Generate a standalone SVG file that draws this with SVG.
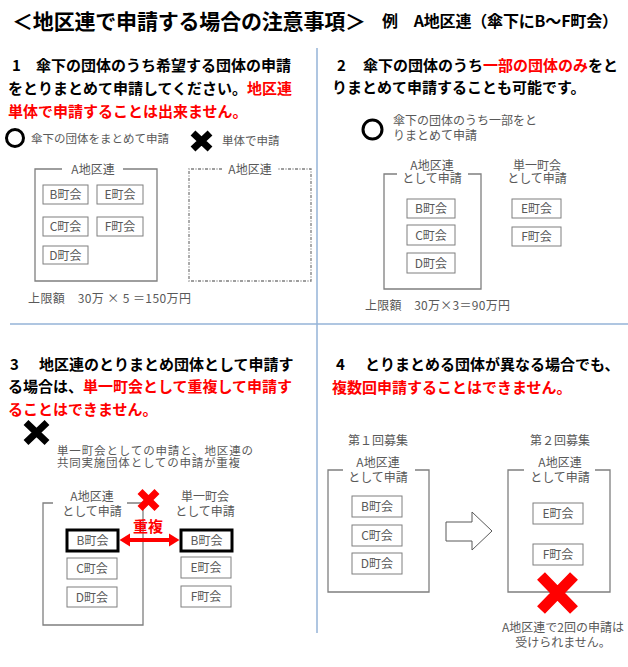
<svg xmlns="http://www.w3.org/2000/svg" width="628" height="667" viewBox="0 0 628 667">
<style>
text{font-family:"Noto Sans CJK JP","Noto Sans CJK SC",sans-serif}
.t{font-size:21px;font-weight:700;fill:#000}
.h{font-size:15px;font-weight:700;fill:#000}
.r{fill:#ff0000}
.s{font-size:12px;fill:#595959}
.m{text-anchor:middle}
.box{fill:none;stroke:#7f7f7f;stroke-width:1.3}
.ib{fill:#fff;stroke:#7f7f7f;stroke-width:1}
.bb{fill:#fff;stroke:#000;stroke-width:3}
.div{stroke:#95b3d7;stroke-width:1.5;fill:none}
.xk{stroke:#000;stroke-width:7;fill:none}
.xr{stroke:#ff0000;fill:none}
.ok{fill:none;stroke:#000;stroke-width:3}
</style>
<rect width="628" height="667" fill="#fff"/>
<g id="title">
<text class="t" x="12" y="29" textLength="354">＜地区連で申請する場合の注意事項＞</text>
<text class="h" x="382" y="27" style="font-size:16px" textLength="236">例　A地区連（傘下にB～F町会）</text>
</g>
<g id="dividers">
<line class="div" x1="317" y1="48" x2="317" y2="633"/>
<line class="div" x1="10" y1="324" x2="628" y2="324"/>
</g>
<g id="sec1">
<text class="h" x="12" y="71">1</text>
<text class="h" x="36" y="71">傘下の団体のうち希望する団体の申請</text>
<text class="h" x="8" y="94">をとりまとめて申請してください。<tspan class="r">地区連</tspan></text>
<text class="h r" x="8" y="117">単体で申請することは出来ません。</text>
<circle class="ok" cx="15" cy="138" r="8.5"/>
<text class="s" x="31" y="143" style="font-size:11.5px">傘下の団体をまとめて申請</text>
<path class="xk" d="M193,133 L210,149 M210,133 L193,149"/>
<text class="s" x="222" y="145" style="font-size:11.5px">単体で申請</text>
</g>
<g id="s1-box">
<path class="box" d="M62,169 H35 V281 H157 V169 H123"/>
<text class="s m" x="93" y="173.5">A地区連</text>
</g>
<g id="s1-B"><rect class="ib" x="43" y="185" width="45" height="19"/><text class="s m" x="65.5" y="199">B町会</text></g>
<g id="s1-E"><rect class="ib" x="97" y="185" width="46" height="19"/><text class="s m" x="120" y="199">E町会</text></g>
<g id="s1-C"><rect class="ib" x="43" y="217" width="45" height="19"/><text class="s m" x="65.5" y="231">C町会</text></g>
<g id="s1-F"><rect class="ib" x="97" y="217" width="46" height="19"/><text class="s m" x="120" y="231">F町会</text></g>
<g id="s1-D"><rect class="ib" x="43" y="246" width="45" height="18"/><text class="s m" x="65.5" y="259.5">D町会</text></g>
<g id="s1-dashed">
<path class="box" stroke-dasharray="3 1.5 1 1.5" d="M222,169 H189 V281 H311 V169 H277"/>
<text class="s m" x="250" y="173.5">A地区連</text>
</g>
<text class="s" x="28" y="302.5" textLength="163">上限額　30万 × 5 ＝150万円</text>
<g id="sec2">
<text class="h" x="337" y="71">2</text>
<text class="h" x="363" y="71">傘下の団体のうち<tspan class="r">一部の団体のみ</tspan>をと</text>
<text class="h" x="332" y="93">りまとめて申請することも可能です。</text>
<circle class="ok" cx="372.5" cy="129.5" r="9.5"/>
<text class="s" x="393" y="124.5">傘下の団体のうち一部をと<tspan x="393" dy="15">りまとめて申請</tspan></text>
</g>
<g id="s2-box">
<path class="box" d="M397,174 H384 V289 H481 V174 H468"/>
<text class="s m" x="432" y="169.5">A地区連<tspan x="432" dy="13">として申請</tspan></text>
</g>
<g id="s2-single">
<text class="s m" x="537" y="169.5">単一町会<tspan x="537" dy="13">として申請</tspan></text>
</g>
<g id="s2-B"><rect class="ib" x="407" y="199" width="48" height="19"/><text class="s m" x="431" y="213">B町会</text></g>
<g id="s2-C"><rect class="ib" x="407" y="225" width="48" height="20"/><text class="s m" x="431" y="239.5">C町会</text></g>
<g id="s2-D"><rect class="ib" x="407" y="253" width="48" height="20"/><text class="s m" x="431" y="267.5">D町会</text></g>
<g id="s2-E"><rect class="ib" x="512" y="199" width="49" height="19"/><text class="s m" x="536.5" y="213">E町会</text></g>
<g id="s2-F"><rect class="ib" x="512" y="227" width="49" height="19"/><text class="s m" x="536.5" y="241">F町会</text></g>
<text class="s" x="365" y="309.5" textLength="145">上限額　30万×3＝90万円</text>
<g id="sec3">
<text class="h" x="10" y="370">3</text>
<text class="h" x="39" y="370">地区連のとりまとめ団体として申請す</text>
<text class="h" x="8" y="392">る場合は、<tspan class="r">単一町会として重複して申請す</tspan></text>
<text class="h r" x="8" y="415">ることはできません。</text>
<path class="xk" d="M26,422.5 L47,442.5 M47,422.5 L26,442.5"/>
<text class="s" x="57" y="454.5" style="font-size:11.5px"><tspan textLength="196">単一町会としての申請と、地区連の</tspan><tspan x="57" dy="12" textLength="183">共同実施団体としての申請が重複</tspan></text>
</g>
<g id="s3-box">
<path class="box" d="M53,503 H43 V625 H143 V503 H127"/>
<text class="s m" x="92" y="500.5">A地区連<tspan x="92" dy="15">として申請</tspan></text>
</g>
<g id="s3-single">
<text class="s m" x="205" y="500.5">単一町会<tspan x="205" dy="15">として申請</tspan></text>
</g>
<g id="s3-B1"><rect class="bb" x="67" y="530" width="51" height="21"/><text class="s m" x="92.5" y="545">B町会</text></g>
<g id="s3-C"><rect class="ib" x="67" y="558" width="50" height="21"/><text class="s m" x="92" y="573">C町会</text></g>
<g id="s3-D"><rect class="ib" x="67" y="587" width="50" height="20"/><text class="s m" x="92" y="601.5">D町会</text></g>
<g id="s3-B2"><rect class="bb" x="181" y="530" width="51" height="21"/><text class="s m" x="206.5" y="545">B町会</text></g>
<g id="s3-E"><rect class="ib" x="181" y="557" width="50" height="21"/><text class="s m" x="206" y="572">E町会</text></g>
<g id="s3-F"><rect class="ib" x="181" y="586" width="50" height="21"/><text class="s m" x="206" y="601">F町会</text></g>
<g id="connectors">
<line x1="127" y1="540" x2="172" y2="540" stroke="#ff0000" stroke-width="4"/>
<polygon points="119.5,540 130,533.5 130,546.5" fill="#ff0000"/>
<polygon points="179.5,540 169,533.5 169,546.5" fill="#ff0000"/>
<polygon points="446,522 472,522 472,512 492,531 472,550 472,541 446,541" fill="#fff" stroke="#595959" stroke-width="1"/>
</g>
<text class="h r m" x="148" y="532">重複</text>
<path class="xr" stroke-width="7" d="M140,491.5 L157,508.5 M157,491.5 L140,508.5"/>
<g id="sec4">
<text class="h" x="336" y="370">4</text>
<text class="h" x="365" y="370">とりまとめる団体が異なる場合でも、</text>
<text class="h r" x="332" y="393">複数回申請することはできません。</text>
<text class="s m" x="378" y="444.5">第１回募集</text>
<text class="s m" x="560" y="444.5">第２回募集</text>
</g>
<g id="s4-box1">
<path class="box" d="M343,470 H328 V592 H429 V470 H415"/>
<text class="s m" x="378" y="466.5">A地区連<tspan x="378" dy="15">として申請</tspan></text>
</g>
<g id="s4-B"><rect class="ib" x="352" y="496" width="50" height="21"/><text class="s m" x="377" y="511">B町会</text></g>
<g id="s4-C"><rect class="ib" x="352" y="525" width="50" height="21"/><text class="s m" x="377" y="540">C町会</text></g>
<g id="s4-D"><rect class="ib" x="352" y="553" width="50" height="21"/><text class="s m" x="377" y="568">D町会</text></g>
<g id="s4-box2">
<path class="box" d="M524,470 H508 V592 H610 V470 H595"/>
<text class="s m" x="560" y="466.5">A地区連<tspan x="560" dy="15">として申請</tspan></text>
</g>
<g id="s4-E"><rect class="ib" x="533" y="503" width="50" height="21"/><text class="s m" x="558" y="518">E町会</text></g>
<g id="s4-F"><rect class="ib" x="533" y="544" width="50" height="21"/><text class="s m" x="558" y="559">F町会</text></g>
<path class="xr" stroke-width="11" d="M541,576 L574,610 M574,576 L541,610"/>
<text class="s m" x="563" y="631.5">A地区連で2回の申請は<tspan x="563" dy="15">受けられません。</tspan></text>
</svg>
